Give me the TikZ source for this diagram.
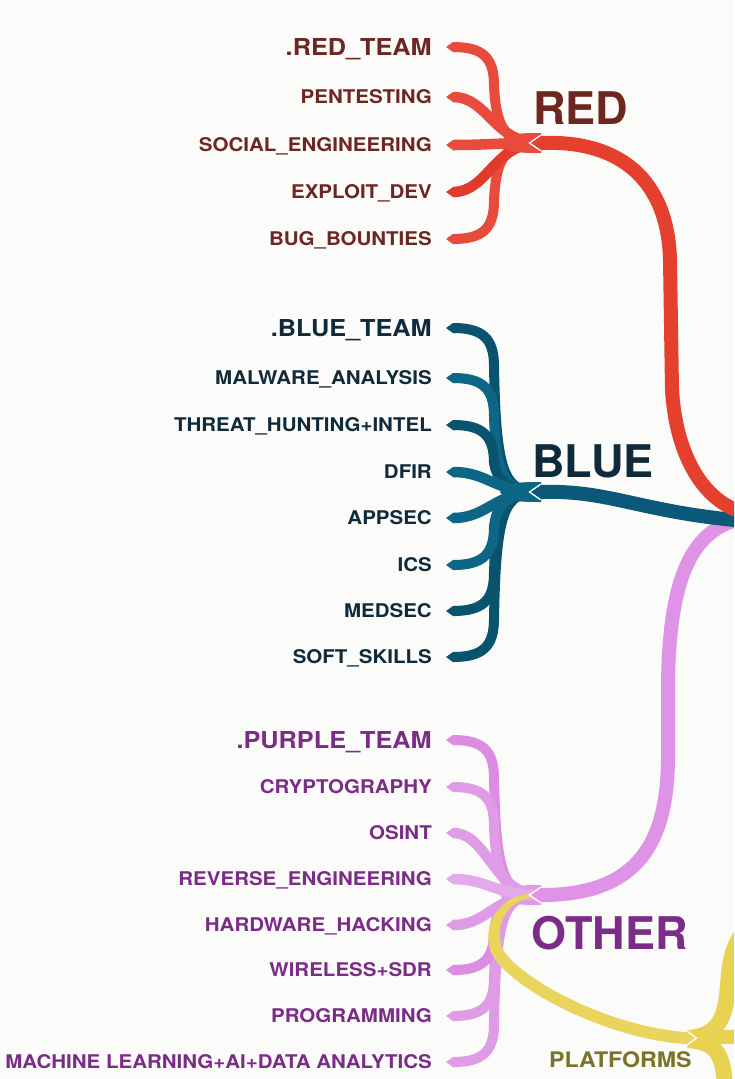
\documentclass[tikz,border=0pt]{standalone}
\usepackage{fontspec}
\newfontfamily\lf[FakeStretch=1.085]{TeX Gyre Heros}
\newfontfamily\bigf{TeX Gyre Heros}
\definecolor{bg}{HTML}{FBFBFA}
\definecolor{redtxt}{HTML}{6E2621}
\definecolor{redbr}{HTML}{E5402D}
\definecolor{redlf}{HTML}{E84B3C}
\definecolor{redlf2}{HTML}{E03A2C}
\definecolor{bluetxt}{HTML}{0F2A3A}
\definecolor{bluebr}{HTML}{0B5878}
\definecolor{bluelf}{HTML}{0D6686}
\definecolor{bluelf2}{HTML}{0A536E}
\definecolor{purtxt}{HTML}{7B2C87}
\definecolor{pinkbr}{HTML}{DF93E6}
\definecolor{pinklf}{HTML}{E09BE7}
\definecolor{pinklf2}{HTML}{DC8CE3}
\definecolor{pinklf3}{HTML}{E4A9EA}
\definecolor{yel}{HTML}{E9D55E}
\definecolor{yel2}{HTML}{E7D351}
\definecolor{olive}{HTML}{7B7428}

\tikzset{
  leaflab/.style={anchor=base east, inner sep=0pt, font=\lf\bfseries\fontsize{18.9}{20}\selectfont},
  teamlab/.style={anchor=base east, inner sep=0pt, font=\lf\bfseries\fontsize{23.3}{25}\selectfont},
  biglab/.style={anchor=base west, inner sep=0pt, font=\bigf\bfseries\fontsize{45}{48}\selectfont},
  platlab/.style={anchor=base west, inner sep=0pt, font=\lf\bfseries\fontsize{21.4}{23}\selectfont},
  mainbr/.style={line width=14pt, line cap=butt},
}

% leaf tip (pointing left)
\newcommand\leaftip[2]{%
  \fill[#1] (446,#2) -- (453,{#2-5}) -- (455,{#2-5}) -- (455,{#2+5}) -- (453,{#2+5}) -- cycle;}
% far leaf: color, y, hub y, sign
\newcommand\leafFar[4]{%
  \leaftip{#1}{#2}
  \draw[#1, line width=10pt] (453,#2) .. controls (482,#2) and (494,{#2+(#4)*10}) .. (494,{#2+(#4)*38})
     .. controls (496,{#3-(#4)*15}) and (505,#3) .. (540,#3);}
% near leaf: color, y, hub y
\newcommand\leafNear[3]{%
  \leaftip{#1}{#2}
  \draw[#1, line width=10.5pt] (453,#2) .. controls (488,#2) and (494,#3) .. (540,#3);}
% hub blob
\newcommand\hubblob[2]{%
  \fill[#1] (500,#2) .. controls (505,{#2-9}) and (515,{#2-10}) .. (541,{#2-10})
     -- (541,{#2+10}) .. controls (515,{#2+10}) and (505,{#2+9}) .. (500,#2) -- cycle;}
% main branch tip pointing left at hub
\newcommand\mtipL[2]{%
  \draw[white, line width=3pt, line join=miter] (541,{#2-7}) -- (531,#2) -- (541,{#2+7});
  \fill[#1] (541,{#2-7}) -- (531,#2) -- (541,{#2+7}) -- (543,{#2+7}) -- (543,{#2-7}) -- cycle;}

\begin{document}
\begin{tikzpicture}[x=1pt,y=-1pt]
\useasboundingbox (0,0) rectangle (734,1079);
\fill[bg] (0,0) rectangle (734,1079);
\begin{scope}
\clip (0,0) rectangle (734,1079);

% ---------- hubs (named) ----------
\coordinate (redhub) at (531,143);
\coordinate (bluehub) at (531,492);
\coordinate (otherhub) at (531,895);
\coordinate (root) at (745,518);

% ---------- RED leaves ----------
\leafFar{redlf}{47}{143}{1}
\leafFar{redlf}{239}{143}{-1}
\leafNear{redlf}{97}{143}
\leafNear{redlf2}{192}{143}
\hubblob{redlf}{143}
\leafNear{redlf}{145}{143}

% ---------- BLUE leaves ----------
\leafFar{bluelf2}{328}{492}{1}
\leafFar{bluelf2}{657}{492}{-1}
\leafFar{bluelf}{378}{492}{1}
\leafFar{bluelf2}{611}{492}{-1}
\leafFar{bluelf2}{425}{492}{1}
\leafFar{bluelf}{565}{492}{-1}
\hubblob{bluelf}{492}
\leafNear{bluelf}{472}{492}
\leafNear{bluelf}{518}{492}

% ---------- PURPLE leaves ----------
\leafFar{pinklf2}{740}{895}{1}
\leafFar{pinklf}{1062}{895}{-1}
\leafFar{pinklf}{787}{895}{1}
\leafFar{pinklf}{1016}{895}{-1}
\leafFar{pinklf2}{970}{895}{-1}
\hubblob{pinklf}{895}
\leafNear{pinklf}{833}{895}
\leafNear{pinklf}{925}{895}
\leafNear{pinklf3}{879}{895}

% ---------- PLATFORMS hub (right) ----------
\draw[yel2, line width=16pt] (688,1038) .. controls (720,1036) and (726,1015) .. (728,985)
   .. controls (730,955) and (735,940) .. (750,925);
\draw[yel2, line width=16pt] (688,1040) .. controls (715,1042) and (724,1052) .. (725,1090);
\draw[yel2, line width=14pt] (688,1038) -- (760,1036);

% ---------- yellow branch OTHER -> PLATFORMS ----------
\fill[yel] (531,893) .. controls (503,896) and (484,918) .. (489,946)
   -- (501,944) .. controls (496,922) and (507,903) .. (531,897) -- cycle;
\draw[yel, line width=12pt] (495,945) .. controls (500,975) and (600,1032) .. (685,1038);
\draw[white, line width=3pt, line join=miter] (687,1032) -- (695,1038) -- (687,1044);
\fill[yel] (684,1032) -- (687,1032) -- (695,1038) -- (687,1044) -- (684,1044) -- cycle;

% ---------- main branches ----------
\mtipL{pinkbr}{895}
\draw[pinkbr, mainbr] (542,895) .. controls (640,895) and (667,840) .. (668,760)
   -- (668,680) .. controls (670,580) and (690,528) .. (root);
\mtipL{bluebr}{492}
\draw[bluebr, mainbr] (542,492) .. controls (610,490) and (640,512) .. (745,521);
\mtipL{redbr}{143}
\draw[redbr, mainbr] (542,143) .. controls (620,140) and (668,180) .. (670,260)
   -- (672,390) .. controls (676,455) and (703,502) .. (745,513);
\end{scope}

% ---------- labels ----------
\node[biglab, text=redtxt] (red) at (533,124) {RED};
\node[biglab, text=bluetxt] (blue) at (532,477) {BLUE};
\node[biglab, text=purtxt] (other) at (531,949) {OTHER};
\node[platlab, text=olive] (platforms) at (549,1067) {PLATFORMS};

\node[teamlab, text=redtxt] (r1) at (432,55) {.RED\_TEAM};
\node[leaflab, text=redtxt] (r2) at (432,103) {PENTESTING};
\node[leaflab, text=redtxt] (r3) at (432,151) {SOCIAL\_ENGINEERING};
\node[leaflab, text=redtxt] (r4) at (432,198) {EXPLOIT\_DEV};
\node[leaflab, text=redtxt] (r5) at (432,245) {BUG\_BOUNTIES};

\node[teamlab, text=bluetxt] (b1) at (432,336) {.BLUE\_TEAM};
\node[leaflab, text=bluetxt] (b2) at (432,384) {MALWARE\_ANALYSIS};
\node[leaflab, text=bluetxt] (b3) at (432,431) {THREAT\_HUNTING+INTEL};
\node[leaflab, text=bluetxt] (b4) at (432,478) {DFIR};
\node[leaflab, text=bluetxt] (b5) at (432,524) {APPSEC};
\node[leaflab, text=bluetxt] (b6) at (432,571) {ICS};
\node[leaflab, text=bluetxt] (b7) at (432,617) {MEDSEC};
\node[leaflab, text=bluetxt] (b8) at (432,663) {SOFT\_SKILLS};

\node[teamlab, text=purtxt] (p1) at (432,748) {.PURPLE\_TEAM};
\node[leaflab, text=purtxt] (p2) at (432,793) {CRYPTOGRAPHY};
\node[leaflab, text=purtxt] (p3) at (432,839) {OSINT};
\node[leaflab, text=purtxt] (p4) at (432,885) {REVERSE\_ENGINEERING};
\node[leaflab, text=purtxt] (p5) at (432,931) {HARDWARE\_HACKING};
\node[leaflab, text=purtxt] (p6) at (432,976) {WIRELESS+SDR};
\node[leaflab, text=purtxt] (p7) at (432,1022) {PROGRAMMING};
\node[leaflab, text=purtxt] (p8) at (432,1068) {MACHINE LEARNING+AI+DATA ANALYTICS};
\end{tikzpicture}
\end{document}
